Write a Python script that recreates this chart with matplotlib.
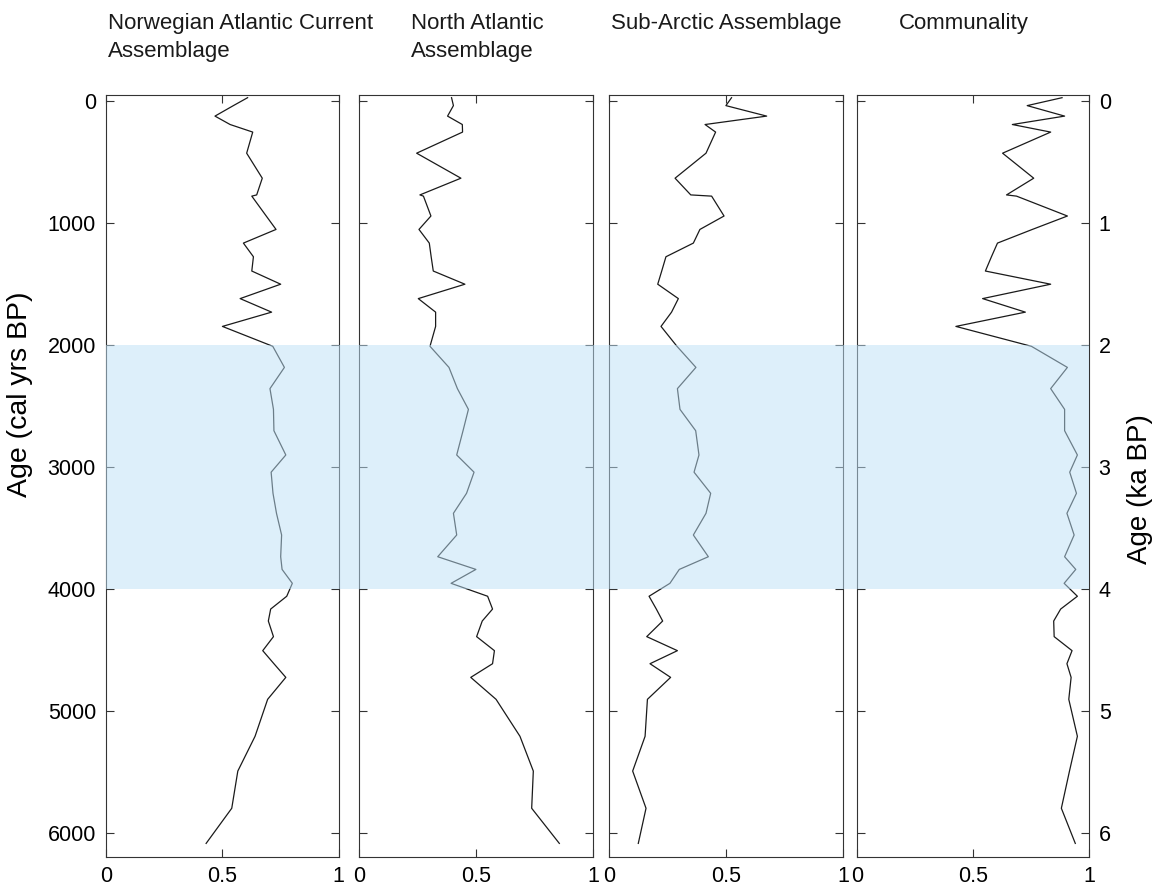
import matplotlib
matplotlib.use("Agg")
import matplotlib.pyplot as plt
from matplotlib.patches import Rectangle
from matplotlib.ticker import FuncFormatter
import matplotlib.transforms as mtransforms

plt.rcParams["font.family"] = ["Liberation Sans", "DejaVu Sans"]

# ages (cal yrs BP) shared by all records
age = [-25, 40, 126, 195, 257, 430, 635, 772, 782, 945, 1055, 1167, 1279, 1396,
       1504, 1622, 1733, 1850, 2013, 2186, 2360, 2530, 2705, 2904, 3045, 3218,
       3382, 3560, 3738, 3842, 3956, 4062, 4167, 4265, 4393, 4508, 4615, 4727,
       4907, 5210, 5495, 5800, 6088]

nac = [0.609, 0.548, 0.469, 0.534, 0.631, 0.605, 0.672, 0.648, 0.627, 0.689,
       0.731, 0.591, 0.634, 0.627, 0.751, 0.577, 0.712, 0.501, 0.717, 0.767,
       0.705, 0.720, 0.722, 0.773, 0.710, 0.718, 0.733, 0.755, 0.751, 0.757,
       0.801, 0.777, 0.708, 0.698, 0.720, 0.674, 0.722, 0.773, 0.695, 0.641,
       0.567, 0.541, 0.431]

na = [0.395, 0.403, 0.378, 0.441, 0.442, 0.246, 0.435, 0.260, 0.275, 0.307,
      0.256, 0.300, 0.308, 0.317, 0.452, 0.253, 0.327, 0.327, 0.303, 0.384,
      0.420, 0.467, 0.444, 0.417, 0.491, 0.459, 0.403, 0.417, 0.336, 0.499,
      0.393, 0.549, 0.570, 0.526, 0.502, 0.578, 0.570, 0.477, 0.585, 0.687,
      0.744, 0.737, 0.855]

sa = [0.523, 0.499, 0.673, 0.410, 0.455, 0.414, 0.282, 0.349, 0.438, 0.491,
      0.388, 0.360, 0.243, 0.225, 0.208, 0.296, 0.267, 0.222, 0.290, 0.371,
      0.292, 0.303, 0.370, 0.384, 0.363, 0.434, 0.414, 0.360, 0.424, 0.300,
      0.260, 0.171, 0.202, 0.229, 0.161, 0.292, 0.175, 0.263, 0.164, 0.154,
      0.101, 0.158, 0.125]

comm = [0.884, 0.734, 0.895, 0.670, 0.835, 0.628, 0.762, 0.645, 0.688, 0.907,
        0.756, 0.606, 0.580, 0.554, 0.835, 0.542, 0.726, 0.427, 0.752, 0.907,
        0.835, 0.895, 0.895, 0.950, 0.917, 0.946, 0.905, 0.936, 0.895, 0.943,
        0.893, 0.950, 0.878, 0.848, 0.850, 0.927, 0.905, 0.923, 0.913, 0.950,
        0.916, 0.881, 0.941]

titles = ["Norwegian Atlantic Current\nAssemblage", "North Atlantic\nAssemblage",
          "Sub-Arctic Assemblage", "Communality"]
series = [nac, na, sa, comm]
band = (2000, 4000)

W, H = 1153, 894
fig = plt.figure(figsize=(W / 100, H / 100), dpi=100)

# panel edges in pixels (left, right)
edges = [(105.7, 338.7), (359.0, 593.3), (609.0, 843.3), (856.7, 1089.0)]
top_px, bot_px = 95.0, 856.7
title_x = [108, 411, 610.6, 899]

axes = []
for i, (l, r) in enumerate(edges):
    ax = fig.add_axes([l / W, 1 - bot_px / H, (r - l) / W, (bot_px - top_px) / H])
    ax.plot(series[i], age, color="#1a1a1a", lw=0.9)
    ax.set_xlim(0, 1)
    ax.set_ylim(6197, -47)
    ax.set_xticks([0, 0.5, 1])
    ax.set_xticklabels(["0", "0.5", "1"])
    ax.set_yticks(range(0, 7000, 1000))
    ax.tick_params(direction="in", length=5.5, width=0.8, color="#333333",
                   labelsize=15.5, top=True, right=True, pad=7)
    ax.tick_params(axis="y", labelleft=(i == 0), labelright=(i == 3))
    for s in ax.spines.values():
        s.set_color("#333333")
        s.set_linewidth(0.8)
    fig.text(title_x[i] / W, 1 - 13 / H, titles[i], ha="left", va="top",
             fontsize=16, linespacing=1.45, color="#1a1a1a")
    axes.append(ax)

axes[3].yaxis.set_major_formatter(FuncFormatter(lambda v, p: f"{v / 1000:g}"))
axes[0].set_ylabel("Age (cal yrs BP)", fontsize=20.5)
axes[0].yaxis.set_label_coords(-0.31, 0.607)
axes[3].yaxis.set_label_position("right")
axes[3].set_ylabel("Age (ka BP)", fontsize=20, rotation=90)
axes[3].yaxis.set_label_coords(1.165, 0.483)

# translucent band laid over all panels
trans = mtransforms.blended_transform_factory(fig.transFigure, axes[0].transData)
x0, x1 = edges[0][0] / W, edges[3][1] / W
fig.add_artist(Rectangle((x0, band[0]), x1 - x0, band[1] - band[0], transform=trans,
                         facecolor="#bde1f7", edgecolor="none", alpha=0.5, zorder=5))

fig.savefig("out.png", dpi=100)
